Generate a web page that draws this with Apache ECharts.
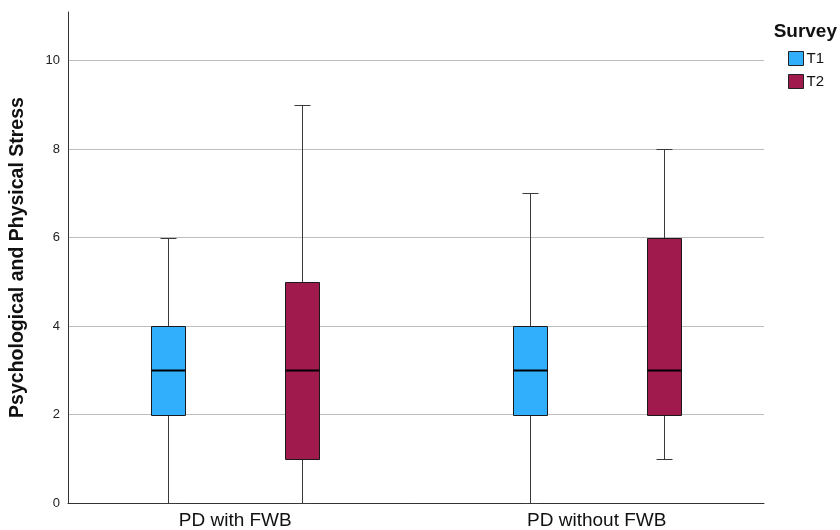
<!DOCTYPE html>
<html>
<head>
<meta charset="utf-8">
<script src="https://cdn.jsdelivr.net/npm/echarts@6/dist/echarts.min.js"></script>
<style>
  html, body { margin: 0; padding: 0; background: #fff; }
  #chart { width: 840px; height: 530px; }
</style>
</head>
<body>
<div id="chart"></div>
<script>
// ---- data ----
const categories = ['PD with FWB', 'PD without FWB'];
const surveys = ['T1', 'T2'];
// [min, Q1, median, Q3, max]
const t1Stats = [[0, 2, 3, 4, 6], [0, 2, 3, 4, 7]];
const t2Stats = [[0, 1, 3, 5, 9], [1, 2, 3, 6, 8]];
const yTicks = [0, 2, 4, 6, 8, 10];
const yAxisTitle = 'Psychological and Physical Stress';
const legendTitle = 'Survey';

const FONT = 'Liberation Sans, Arial, sans-serif';
const colors = ['#31AFFC', '#A01A4E'];

function makeRender(side) {
  return function (params, api) {
    const idx = api.value(0);
    const bw = api.size([1, 0])[0];
    const cx = Math.round(api.coord([idx, 0])[0] + side * 0.1853 * bw) + 0.5;
    const half = Math.round(0.047 * bw);
    const cap = Math.round(0.022 * bw);
    const y = k => Math.round(api.coord([idx, api.value(k)])[1]) + 0.5;
    const yMin = y(1), yQ1 = y(2), yMed = y(3), yQ3 = y(4), yMax = y(5);
    const wStyle = { stroke: '#3a3a3a', lineWidth: 1 };
    const color = api.visual('color');
    return {
      type: 'group',
      children: [
        { type: 'line', shape: { x1: cx, y1: yMax, x2: cx, y2: yQ3 }, style: wStyle },
        { type: 'line', shape: { x1: cx, y1: yQ1, x2: cx, y2: yMin }, style: wStyle },
        { type: 'line', shape: { x1: cx - cap, y1: yMax, x2: cx + cap, y2: yMax }, style: wStyle },
        { type: 'line', shape: { x1: cx - cap, y1: yMin, x2: cx + cap, y2: yMin }, style: wStyle },
        { type: 'rect', shape: { x: cx - half, y: yQ3, width: half * 2, height: yQ1 - yQ3 },
          style: { fill: color, stroke: '#1a1a1a', lineWidth: 1 } },
        { type: 'line', shape: { x1: cx - half, y1: yMed, x2: cx + half, y2: yMed },
          style: { stroke: '#000', lineWidth: 2 } }
      ]
    };
  };
}

const chart = echarts.init(document.getElementById('chart'));
chart.setOption({
  animation: false,
  backgroundColor: '#fff',
  textStyle: { fontFamily: FONT },
  title: {
    text: legendTitle,
    right: 3, top: 22, padding: 0,
    textStyle: { fontFamily: FONT, fontSize: 19, fontWeight: 'bold', color: '#111' }
  },
  legend: {
    orient: 'vertical',
    left: 788, top: 51, padding: 0,
    itemWidth: 15, itemHeight: 14, itemGap: 8,
    icon: 'rect',
    selectedMode: false,
    itemStyle: { borderColor: '#222', borderWidth: 1 },
    textStyle: { fontFamily: FONT, fontSize: 15, lineHeight: 14, color: '#111', padding: [0, 0, 0, -2] },
    data: surveys
  },
  grid: [
    { left: 67, right: 76, top: 12, bottom: 27 },
    { left: 54.5, right: 62.5, top: 12, bottom: 27 }
  ],
  xAxis: [
    { gridIndex: 0, type: 'category', data: categories,
      axisLine: { lineStyle: { color: '#333', width: 1 } },
      axisTick: { show: false }, axisLabel: { show: false } },
    { gridIndex: 1, type: 'category', data: categories,
      axisLine: { show: false }, axisTick: { show: false },
      axisLabel: { fontFamily: FONT, fontSize: 19, color: '#111', margin: 8 } }
  ],
  yAxis: [
    { gridIndex: 0, type: 'value', min: 0, max: 11.1, interval: 2,
      name: yAxisTitle, nameLocation: 'middle', nameGap: 40,
      nameTextStyle: { fontFamily: FONT, fontSize: 19.5, fontWeight: 'bold', color: '#111' },
      axisLine: { show: true, lineStyle: { color: '#333', width: 1 } },
      axisTick: { show: false },
      axisLabel: { fontFamily: FONT, fontSize: 13, color: '#222', margin: 8, padding: [4, 0, 0, 0],
        showMaxLabel: false,
        formatter: v => (yTicks.indexOf(v) >= 0 ? String(v) : '') },
      splitLine: { show: true, showMaxLine: false, lineStyle: { color: '#BDBDBD', width: 1 } } },
    { gridIndex: 1, type: 'value', min: 0, max: 11.1, interval: 2, show: false,
      splitLine: { show: false } }
  ],
  series: [
    { name: surveys[0], type: 'custom', xAxisIndex: 1, yAxisIndex: 1,
      itemStyle: { color: colors[0] },
      renderItem: makeRender(-1),
      encode: { x: 0, y: [1, 2, 3, 4, 5] },
      data: t1Stats.map((s, i) => [i].concat(s)) },
    { name: surveys[1], type: 'custom', xAxisIndex: 1, yAxisIndex: 1,
      itemStyle: { color: colors[1] },
      renderItem: makeRender(1),
      encode: { x: 0, y: [1, 2, 3, 4, 5] },
      data: t2Stats.map((s, i) => [i].concat(s)) }
  ]
});
</script>
</body>
</html>
